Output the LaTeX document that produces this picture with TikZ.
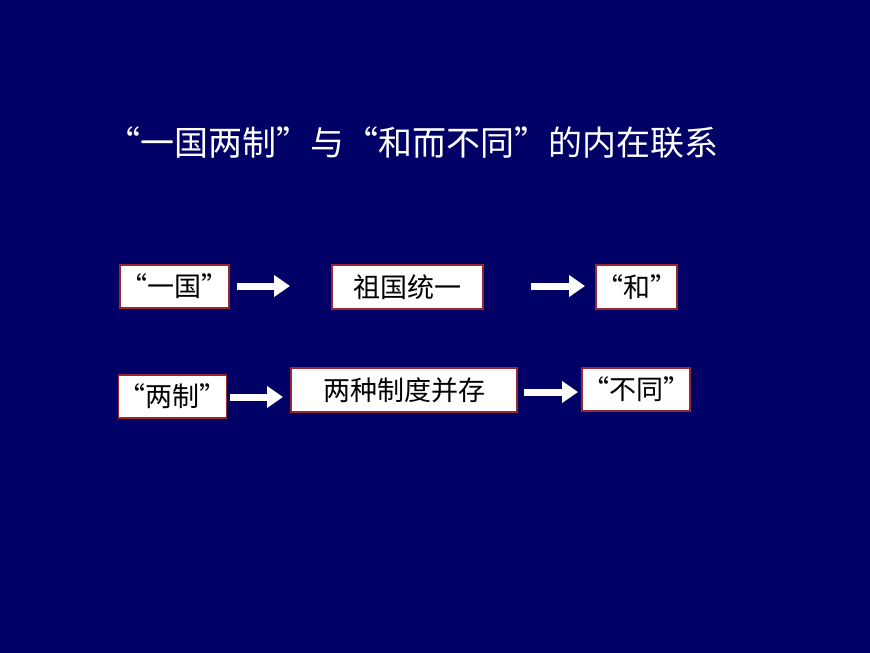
\documentclass[tikz,border=0pt]{standalone}
\usepackage{fontspec}
\setmainfont{Noto Sans CJK SC}
\usetikzlibrary{arrows.meta}
\definecolor{bg}{RGB}{0,0,102}
\definecolor{bd}{RGB}{150,40,50}
\tikzset{
 box/.style={draw=bd,line width=1.2pt,fill=white,inner sep=0pt,font=\fontsize{27}{30}\selectfont},
 barrow/.style={white,line width=7pt,-{Triangle[length=16pt,width=21pt]}}
}
\begin{document}
\begin{tikzpicture}[x=1pt,y=-1pt]
\fill[bg] (0,0) rectangle (870,653);
\useasboundingbox (0,0) rectangle (870,653);
\node[white,font=\fontsize{34}{38}\selectfont] (t) at (412,143) {“一国两制”与“和而不同”的内在联系};
\node[box,minimum width=109pt,minimum height=43pt] (a) at (174.5,286.5) {“一国”};
\node[box,minimum width=151pt,minimum height=44pt] (b) at (407.5,287) {祖国统一};
\node[box,minimum width=75pt,minimum height=44pt] (c) at (636.5,287) {“和”};
\node[box,minimum width=105pt,minimum height=43pt] (d) at (172.5,396.5) {“两制”};
\node[box,minimum width=226pt,minimum height=44pt] (e) at (404,390) {两种制度并存};
\node[box,minimum width=104pt,minimum height=43pt] (f) at (636,389.5) {“不同”};
\coordinate (a1) at (237,286); \coordinate (a2) at (290,286);
\coordinate (b1) at (531,286); \coordinate (b2) at (585,286);
\coordinate (d1) at (230,397); \coordinate (d2) at (283,397);
\coordinate (e1) at (524,392); \coordinate (e2) at (578,392);
\draw[barrow] (a1) -- (a2);
\draw[barrow] (b1) -- (b2);
\draw[barrow] (d1) -- (d2);
\draw[barrow] (e1) -- (e2);
\end{tikzpicture}
\end{document}
